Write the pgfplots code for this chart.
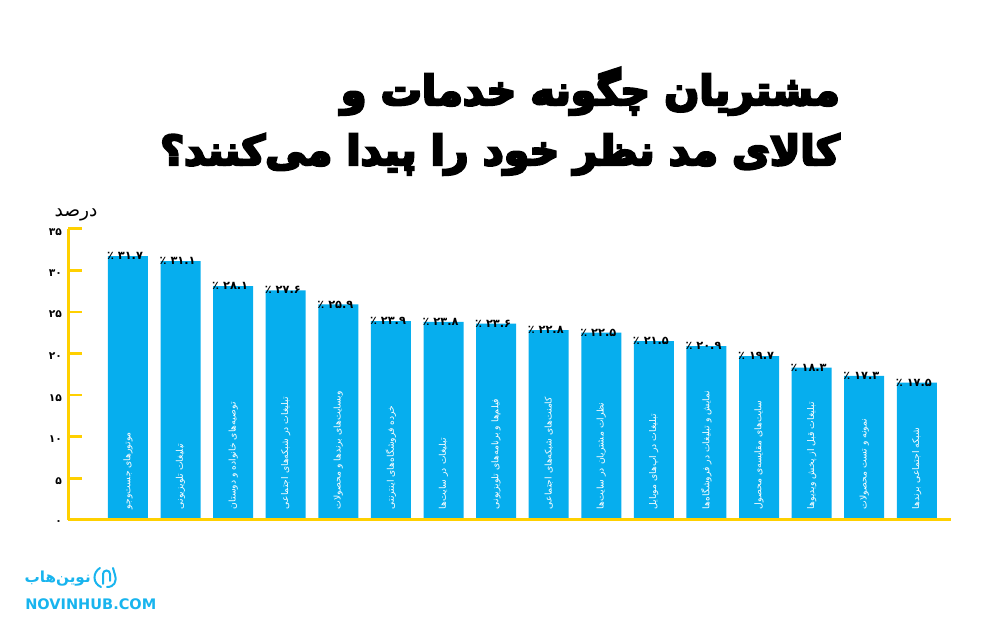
\documentclass[border=0pt]{standalone}
\usepackage{fontspec}
\usepackage{pgfplots}
\pgfplotsset{compat=1.18}
\TeXXeTstate=1
\setmainfont{DejaVu Sans}
\newfontfamily\fa[Script=Arabic]{DejaVu Sans}
\newfontfamily\fab[Script=Arabic]{DejaVu Sans Bold}
\newfontfamily\fatitle[Script=Arabic,FakeBold=6]{DejaVu Sans Bold}
\definecolor{barblue}{HTML}{06AEEE}
\definecolor{axisyellow}{HTML}{FFD000}
\definecolor{logoblue}{HTML}{18B4EE}

\begin{document}
\begin{tikzpicture}[x=0.75pt,y=0.75pt]
\path[use as bounding box] (0,0) rectangle (1000,627);
% title
\node[anchor=base east,inner sep=0pt] at (840,522) {\fontsize{30.8pt}{30.8pt}\selectfont\fatitle\beginR مشتریان چگونه خدمات و\endR};
\node[anchor=base east,inner sep=0pt] at (840,462) {\fontsize{30.8pt}{30.8pt}\selectfont\fatitle\beginR کالای مد نظر خود را پیدا می‌کنند؟\endR};
\node[anchor=center,inner sep=0pt] at (76,412) {\fontsize{14pt}{14pt}\selectfont\fa\beginR درصد\endR};
\begin{axis}[
  at={(51pt,80.4pt)},
  anchor=south west,
  scale only axis,
  width=662.25pt,
  height=218.25pt,
  xmin=-1.14,
  xmax=15.65,
  ymin=0,
  ymax=35,
  axis lines=left,
  axis line style={-,axisyellow,line width=2.25pt},
  axis on top,
  clip=false,
  xtick=\empty,
  ytick={0,5,10,15,20,25,30,35},
  yticklabels={۰,۵,۱۰,۱۵,۲۰,۲۵,\raisebox{-2pt}{۳۰},\raisebox{-6pt}{۳۵}},
  yticklabel style={font=\fontsize{8pt}{8pt}\selectfont\fab,text=black,xshift=-1pt,yshift=-2pt},
  tick align=inside,
  major tick length=10.5pt,
  tick style={axisyellow,line width=2pt},
]
\addplot[ybar,bar width=30pt,bar shift=0pt,fill=barblue,draw=none,
  point meta=explicit symbolic,
  nodes near coords={\fontsize{8.5pt}{8.5pt}\selectfont\fab\pgfplotspointmeta},
  nodes near coords align={center},
  every node near coord/.append style={text=black,inner sep=0pt,xshift=-2.2pt},
] coordinates {
  (0,31.7) [\beginR ۳۱.۷ ٪\endR]
  (1,31.1) [\beginR ۳۱.۱ ٪\endR]
  (2,28.1) [\beginR ۲۸.۱ ٪\endR]
  (3,27.6) [\beginR ۲۷.۶ ٪\endR]
  (4,25.9) [\beginR ۲۵.۹ ٪\endR]
  (5,23.9) [\beginR ۲۳.۹ ٪\endR]
  (6,23.8) [\beginR ۲۳.۸ ٪\endR]
  (7,23.6) [\beginR ۲۳.۶ ٪\endR]
  (8,22.8) [\beginR ۲۲.۸ ٪\endR]
  (9,22.5) [\beginR ۲۲.۵ ٪\endR]
  (10,21.5) [\beginR ۲۱.۵ ٪\endR]
  (11,20.9) [\beginR ۲۰.۹ ٪\endR]
  (12,19.7) [\beginR ۱۹.۷ ٪\endR]
  (13,18.3) [\beginR ۱۸.۳ ٪\endR]
  (14,17.3) [\beginR ۱۷.۳ ٪\endR]
  (15,16.5) [\beginR ۱۷.۵ ٪\endR]
};
% names of the bars, read upward from just above the base line
\addplot[draw=none,mark=none,
  point meta=explicit symbolic,
  nodes near coords={\fontsize{6.9pt}{6.9pt}\selectfont\fa\pgfplotspointmeta},
  every node near coord/.append style={text=white,rotate=90,anchor=west,inner sep=0pt},
] coordinates {
  (0,1.25) [\beginR موتورهای جست‌وجو\endR]
  (1,1.25) [\beginR تبلیغات تلویزیونی\endR]
  (2,1.25) [\beginR توصیه‌های خانواده و دوستان\endR]
  (3,1.25) [\beginR تبلیغات در شبکه‌های اجتماعی\endR]
  (4,1.25) [\beginR وبسایت‌های برندها و محصولات\endR]
  (5,1.25) [\beginR خرده فروشگاه‌های اینترنتی\endR]
  (6,1.25) [\beginR تبلیغات در سایت‌ها\endR]
  (7,1.25) [\beginR فیلم‌ها و برنامه‌های تلویزیونی\endR]
  (8,1.25) [\beginR کامنت‌های شبکه‌های اجتماعی\endR]
  (9,1.25) [\beginR نظرات مشتریان در سایت‌ها\endR]
  (10,1.25) [\beginR تبلیغات در اپ‌های موبایل\endR]
  (11,1.25) [\beginR نمایش و تبلیغات در فروشگاه‌ها\endR]
  (12,1.25) [\beginR سایت‌های مقایسه‌ی محصول\endR]
  (13,1.25) [\beginR تبلیغات قبل از پخش ویدیوها\endR]
  (14,1.25) [\beginR نمونه و تست محصولات\endR]
  (15,1.25) [\beginR شبکه اجتماعی برندها\endR]
};
\end{axis}
% logo
\node[anchor=base west,inner sep=0pt,text=logoblue] at (25,17) {\fontsize{10.9pt}{10.9pt}\selectfont\bfseries NOVINHUB.COM};
\node[anchor=base east,inner sep=0pt,text=logoblue] at (91,44) {\fontsize{11.4pt}{11.4pt}\selectfont\fab\beginR نوین‌هاب\endR};
\draw[logoblue,line width=1.5pt,line cap=round] (100,59) .. controls (93,55) and (92,44) .. (101,40);
\draw[logoblue,line width=1.5pt,line cap=round] (103,43) -- (103,53) arc[start angle=180,end angle=0,radius=3.5] -- (110,46);
\draw[logoblue,line width=1.5pt,line cap=round] (107,40) .. controls (114,40) and (117,45) .. (115,52) -- (113,59);
\end{tikzpicture}
\end{document}
